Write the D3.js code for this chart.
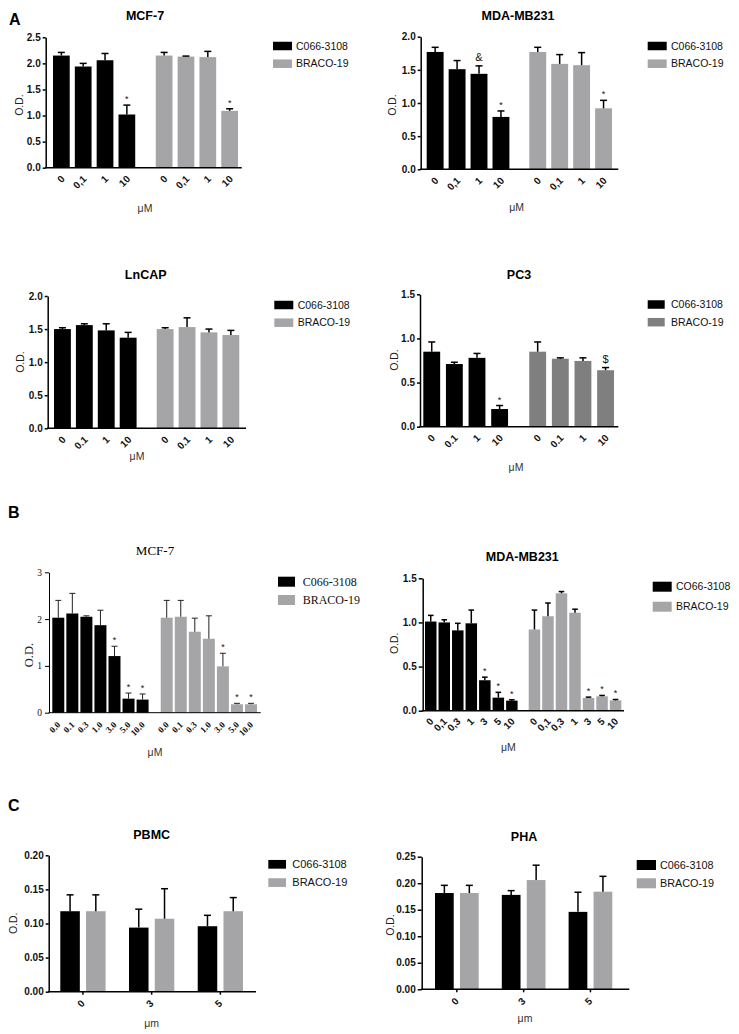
<!DOCTYPE html>
<html><head><meta charset="utf-8">
<script src="https://cdn.jsdelivr.net/npm/d3@7"></script>
<style>body{margin:0;background:#fff}svg{display:block}</style>
</head><body>
<svg id="c" width="739" height="1034"></svg>
<script>
// ---------- DATA ----------
const seriesNames = ["C066-3108", "BRACO-19"];
const seriesNamesBMDA = ["CO66-3108", "BRACO-19"];
const dosesA_comma = ["0", "0,1", "1", "10"];
const dosesA_dot = ["0", "0.1", "1", "10"];
const dosesB_MCF7 = ["0.0", "0.1", "0.3", "1.0", "3.0", "5.0", "10.0"];
const dosesB_MDA = ["0", "0,1", "0,3", "1", "3", "5", "10"];
const dosesC = ["0", "3", "5"];

// Panel A MCF-7
const aMCF7_C066 = [2.15, 1.94, 2.06, 1.02];
const aMCF7_C066_sd = [0.06, 0.06, 0.13, 0.18];
const aMCF7_C066_sig = ["", "", "", "*"];
const aMCF7_BRACO = [2.15, 2.13, 2.12, 1.09];
const aMCF7_BRACO_sd = [0.06, 0.01, 0.11, 0.04];
const aMCF7_BRACO_sig = ["", "", "", "*"];
const aMCF7_ticks = [0, 0.5, 1.0, 1.5, 2.0, 2.5];

// Panel A MDA-MB231
const aMDA_C066 = [1.77, 1.51, 1.44, 0.79];
const aMDA_C066_sd = [0.07, 0.13, 0.12, 0.09];
const aMDA_C066_sig = ["", "", "&", "*"];
const aMDA_BRACO = [1.77, 1.59, 1.57, 0.92];
const aMDA_BRACO_sd = [0.07, 0.14, 0.19, 0.12];
const aMDA_BRACO_sig = ["", "", "", "*"];
const aMDA_ticks = [0, 0.5, 1.0, 1.5, 2.0];

// Panel A LnCAP
const aLNCAP_C066 = [1.50, 1.56, 1.48, 1.37];
const aLNCAP_C066_sd = [0.02, 0.02, 0.10, 0.08];
const aLNCAP_BRACO = [1.50, 1.53, 1.45, 1.41];
const aLNCAP_BRACO_sd = [0.02, 0.14, 0.05, 0.07];
const aLNCAP_ticks = [0, 0.5, 1.0, 1.5, 2.0];

// Panel A PC3
const aPC3_C066 = [0.85, 0.71, 0.78, 0.20];
const aPC3_C066_sd = [0.11, 0.02, 0.05, 0.04];
const aPC3_C066_sig = ["", "", "", "*"];
const aPC3_BRACO = [0.85, 0.77, 0.745, 0.64];
const aPC3_BRACO_sd = [0.11, 0.01, 0.035, 0.03];
const aPC3_BRACO_sig = ["", "", "", "$"];
const aPC3_ticks = [0, 0.5, 1.0, 1.5];

// Panel B MCF-7
const bMCF7_C066 = [2.03, 2.12, 2.05, 1.87, 1.21, 0.30, 0.28];
const bMCF7_C066_sd = [0.37, 0.43, 0.02, 0.32, 0.21, 0.12, 0.12];
const bMCF7_C066_sig = ["", "", "", "", "*", "*", "*"];
const bMCF7_BRACO = [2.03, 2.05, 1.73, 1.58, 0.99, 0.18, 0.18];
const bMCF7_BRACO_sd = [0.37, 0.35, 0.29, 0.49, 0.28, 0.02, 0.02];
const bMCF7_BRACO_sig = ["", "", "", "", "*", "*", "*"];
const bMCF7_ticks = [0, 1, 2, 3];

// Panel B MDA-MB231
const bMDA_C066 = [1.01, 1.00, 0.91, 0.99, 0.345, 0.148, 0.114];
const bMDA_C066_sd = [0.07, 0.03, 0.08, 0.15, 0.035, 0.06, 0.01];
const bMDA_C066_sig = ["", "", "", "", "*", "*", "*"];
const bMDA_BRACO = [0.92, 1.07, 1.33, 1.11, 0.144, 0.163, 0.117];
const bMDA_BRACO_sd = [0.22, 0.15, 0.02, 0.04, 0.01, 0.01, 0.01];
const bMDA_BRACO_sig = ["", "", "", "", "*", "*", "*"];
const bMDA_ticks = [0, 0.5, 1.0, 1.5];

// Panel C PBMC
const cPBMC_C066 = [0.118, 0.094, 0.096];
const cPBMC_C066_sd = [0.024, 0.027, 0.016];
const cPBMC_BRACO = [0.118, 0.107, 0.118];
const cPBMC_BRACO_sd = [0.024, 0.044, 0.020];
const cPBMC_ticks = [0, 0.05, 0.10, 0.15, 0.20];

// Panel C PHA
const cPHA_C066 = [0.1815, 0.178, 0.146];
const cPHA_C066_sd = [0.0145, 0.008, 0.037];
const cPHA_BRACO = [0.1815, 0.206, 0.184];
const cPHA_BRACO_sd = [0.0145, 0.028, 0.029];
const cPHA_ticks = [0, 0.05, 0.10, 0.15, 0.20, 0.25];

// ---------- DRAW ----------
const svg = d3.select("#c");
const SANS = "'Liberation Sans', Arial, sans-serif";
const SERIF = "'Liberation Serif', 'Times New Roman', serif";
const BLACK = "#000000", GRAY = "#a5a5a8", DGRAY = "#7f7f7f";

function mkSeries(names, colors, vals, sds, sigs) {
  return names.map((n, k) => ({name: n, color: colors[k], vals: vals[k], sd: sds[k], sig: sigs ? sigs[k] : null}));
}

function drawPanel(o) {
  const g = svg.append("g");
  const font = o.font || SANS;
  const y = d3.scaleLinear().domain([0, o.yMax]).range([o.y0, o.yTop]);
  const sNames = o.series.map(s => s.name);
  const outerKeys = o.mode === "drug" ? sNames : o.doses;
  const innerKeys = o.mode === "drug" ? o.doses : sNames;
  const xo = d3.scaleBand().domain(outerKeys).range([o.b0, o.b1]).paddingInner(o.gp).paddingOuter(0);
  const xi = d3.scaleBand().domain(innerKeys).range([0, xo.bandwidth()]).paddingInner(o.ip).paddingOuter(0);
  const rows = [];
  o.series.forEach(s => o.doses.forEach((d, i) => {
    const ok = o.mode === "drug" ? s.name : d;
    const ik = o.mode === "drug" ? d : s.name;
    rows.push({s, d, i, x: xo(ok) + xi(ik), w: xi.bandwidth(), v: s.vals[i], e: s.sd[i], sig: s.sig ? s.sig[i] : ""});
  }));

  // bars
  g.selectAll("rect.bar").data(rows).join("rect").attr("class", "bar")
    .attr("x", r => r.x).attr("y", r => y(r.v)).attr("width", r => r.w)
    .attr("height", r => o.y0 - y(r.v)).attr("fill", r => r.s.color);

  // error bars
  const ew = o.errW || 1.5, ch = o.capHalf || 3.5, ec = o.errColor || "#000";
  g.selectAll("line.ev").data(rows).join("line").attr("class", "ev")
    .attr("x1", r => r.x + r.w / 2).attr("x2", r => r.x + r.w / 2)
    .attr("y1", r => y(r.v)).attr("y2", r => y(r.v + r.e))
    .attr("stroke", ec).attr("stroke-width", ew);
  g.selectAll("line.ec").data(rows).join("line").attr("class", "ec")
    .attr("x1", r => r.x + r.w / 2 - ch).attr("x2", r => r.x + r.w / 2 + ch)
    .attr("y1", r => y(r.v + r.e)).attr("y2", r => y(r.v + r.e))
    .attr("stroke", ec).attr("stroke-width", ew);

  // significance marks
  g.selectAll("text.sig").data(rows.filter(r => r.sig)).join("text").attr("class", "sig")
    .attr("x", r => r.x + r.w / 2)
    .attr("y", r => y(r.v + r.e) - (r.sig === "*" ? 3 : 5))
    .attr("text-anchor", "middle").attr("font-family", SANS)
    .attr("font-size", r => r.sig === "*" ? 9 : 11)
    .attr("fill", "#111").text(r => r.sig);

  // y axis
  const ax = d3.axisLeft(y).tickValues(o.ticks).tickFormat(d3.format(o.fmt))
    .tickSize(o.tickSize || 3).tickSizeOuter(0).tickPadding(o.tickPad || 2);
  const ya = g.append("g").attr("transform", `translate(${o.xa},0)`).call(ax);
  ya.select(".domain").attr("stroke", "#000").attr("stroke-width", o.axisW || 1.5);
  ya.selectAll(".tick line").attr("stroke", "#000").attr("stroke-width", o.axisW || 1.5);
  ya.selectAll(".tick text").attr("font-family", font).attr("font-size", o.tickFS || 10)
    .attr("font-weight", o.tickBold === false ? "normal" : "bold").attr("fill", "#111");

  // x axis line
  g.append("line").attr("x1", o.xa - (o.axisW || 1.5) / 2).attr("x2", o.xe)
    .attr("y1", o.y0).attr("y2", o.y0).attr("stroke", "#000").attr("stroke-width", o.axisW || 1.5);

  // x labels
  let labs;
  if (o.mode === "drug") {
    labs = rows.map(r => ({t: r.d, cx: r.x + r.w / 2}));
  } else {
    labs = o.doses.map(d => ({t: d, cx: xo(d) + xo.bandwidth() / 2}));
    g.selectAll("line.xt").data(labs).join("line").attr("class", "xt")
      .attr("x1", l => l.cx).attr("x2", l => l.cx).attr("y1", o.y0).attr("y2", o.y0 + 3)
      .attr("stroke", "#000").attr("stroke-width", o.axisW || 1.5);
  }
  g.selectAll("text.xl").data(labs).join("text").attr("class", "xl")
    .attr("transform", l => `translate(${l.cx + (o.ldx || 1.5)},${o.y0 + (o.ldy || 9.5)}) rotate(-45)`)
    .attr("text-anchor", "end").attr("dy", "0.35em")
    .attr("font-family", font).attr("font-size", o.xlFS || 10).attr("font-weight", "bold")
    .attr("fill", "#111").text(l => l.t);

  // titles
  g.append("text").attr("x", o.titleX).attr("y", o.titleY).attr("dy", "0.35em")
    .attr("text-anchor", "middle").attr("font-family", font)
    .attr("font-weight", o.titleBold === false ? "normal" : "bold")
    .attr("font-size", o.titleFS || 12.5).attr("fill", "#000").text(o.title);
  g.append("text").attr("transform", `translate(${o.odX},${o.odY}) rotate(-90)`).attr("dy", "0.35em")
    .attr("text-anchor", "middle").attr("font-family", font).attr("font-size", o.odFS || 10.5)
    .attr("fill", "#222").text("O.D.");
  g.append("text").attr("x", o.muX).attr("y", o.muY).attr("dy", "0.35em")
    .attr("text-anchor", "middle").attr("font-family", SANS).attr("font-size", 10.5)
    .attr("fill", "#333").text(o.muText || "μM");

  // legend
  const lg = g.append("g").attr("transform", `translate(${o.lx},${o.ly})`);
  const li = lg.selectAll("g").data(o.series).join("g")
    .attr("transform", (s, k) => `translate(0,${k * o.lrow})`);
  li.append("rect").attr("x", 0).attr("y", -o.lh / 2).attr("width", o.lw).attr("height", o.lh)
    .attr("fill", s => s.color);
  li.append("text").attr("x", o.ltx).attr("y", 0).attr("dy", "0.35em")
    .attr("font-family", font).attr("font-size", o.lFS || 10.5).attr("fill", "#111").text(s => s.name);
}

// panel letters
[["A", 9, 25], ["B", 8, 518], ["C", 8, 811]].forEach(([t, x, yy]) =>
  svg.append("text").attr("x", x).attr("y", yy).attr("font-family", SANS).attr("font-weight", "bold")
    .attr("font-size", 16).text(t));

drawPanel({title: "MCF-7", titleX: 145, titleY: 16, mode: "drug", doses: dosesA_comma,
  series: mkSeries(seriesNames, [BLACK, GRAY], [aMCF7_C066, aMCF7_BRACO], [aMCF7_C066_sd, aMCF7_BRACO_sd], [aMCF7_C066_sig, aMCF7_BRACO_sig]),
  xa: 45.7, xe: 241.7, y0: 167.7, yTop: 37.3, yMax: 2.5, ticks: aMCF7_ticks, fmt: ".1f",
  b0: 53, b1: 238, gp: 0.2, ip: 0.234, odX: 19, odY: 105, muX: 145, muY: 208,
  lx: 273, ly: 46, lrow: 17.7, lw: 19, lh: 8.5, ltx: 23});

drawPanel({title: "MDA-MB231", titleX: 518, titleY: 16, mode: "drug", doses: dosesA_comma,
  series: mkSeries(seriesNames, [BLACK, GRAY], [aMDA_C066, aMDA_BRACO], [aMDA_C066_sd, aMDA_BRACO_sd], [aMDA_C066_sig, aMDA_BRACO_sig]),
  xa: 420.7, xe: 618.3, y0: 169.3, yTop: 36.7, yMax: 2.0, ticks: aMDA_ticks, fmt: ".1f",
  b0: 426.7, b1: 612, gp: 0.194, ip: 0.23, odX: 392.7, odY: 105, muX: 516.7, muY: 207,
  lx: 647.7, ly: 46, lrow: 17.7, lw: 19, lh: 8.5, ltx: 23.3});

drawPanel({title: "LnCAP", titleX: 145.7, titleY: 275, mode: "drug", doses: dosesA_dot,
  series: mkSeries(seriesNames, [BLACK, GRAY], [aLNCAP_C066, aLNCAP_BRACO], [aLNCAP_C066_sd, aLNCAP_BRACO_sd], null),
  xa: 47.7, xe: 246, y0: 428.3, yTop: 296, yMax: 2.0, ticks: aLNCAP_ticks, fmt: ".1f",
  b0: 54, b1: 239.3, gp: 0.196, ip: 0.23, odX: 20, odY: 362, muX: 137, muY: 456.5,
  lx: 274.3, ly: 305, lrow: 17.7, lw: 19, lh: 8.5, ltx: 23.4});

drawPanel({title: "PC3", titleX: 519, titleY: 275, mode: "drug", doses: dosesA_dot,
  series: mkSeries(seriesNames, [BLACK, DGRAY], [aPC3_C066, aPC3_BRACO], [aPC3_C066_sd, aPC3_BRACO_sd], [aPC3_C066_sig, aPC3_BRACO_sig]),
  xa: 420, xe: 618.3, y0: 426.7, yTop: 294.3, yMax: 1.5, ticks: aPC3_ticks, fmt: ".1f",
  b0: 423.3, b1: 614, gp: 0.2, ip: 0.255, odX: 394, odY: 360, muX: 516, muY: 467,
  lx: 647.7, ly: 304.5, lrow: 17.7, lw: 17, lh: 8.5, ltx: 23.3});

drawPanel({title: "MCF-7", titleX: 155, titleY: 550, titleBold: false, titleFS: 13, font: SERIF, mode: "drug", doses: dosesB_MCF7,
  series: mkSeries(seriesNames, [BLACK, GRAY], [bMCF7_C066, bMCF7_BRACO], [bMCF7_C066_sd, bMCF7_BRACO_sd], [bMCF7_C066_sig, bMCF7_BRACO_sig]),
  xa: 49, xe: 260.7, y0: 712.7, yTop: 572.3, yMax: 3, ticks: bMCF7_ticks, fmt: "d", tickBold: false, tickFS: 9.5, tickSize: 4, tickPad: 3,
  axisW: 1, errW: 1, capHalf: 3, errColor: "#222",
  b0: 52.3, b1: 257, gp: 0.112, ip: 0.147, odX: 28.3, odY: 655, odFS: 12.5, xlFS: 9, ldx: 0.5, ldy: 10.5,
  muX: 155, muY: 752.7, lx: 278, ly: 581.7, lrow: 18.3, lw: 17, lh: 10, ltx: 24.7, lFS: 12});

drawPanel({title: "MDA-MB231", titleX: 522.3, titleY: 556.7, mode: "drug", doses: dosesB_MDA,
  series: mkSeries(seriesNamesBMDA, [BLACK, GRAY], [bMDA_C066, bMDA_BRACO], [bMDA_C066_sd, bMDA_BRACO_sd], [bMDA_C066_sig, bMDA_BRACO_sig]),
  xa: 422.7, xe: 624, y0: 710.7, yTop: 578.3, yMax: 1.5, ticks: bMDA_ticks, fmt: ".1f", tickSize: 4,
  b0: 425, b1: 621.3, gp: 0.107, ip: 0.15, capHalf: 2.8, odX: 394, odY: 643.3, ldx: 1, ldy: 9,
  muX: 508.3, muY: 747.7, lx: 652.7, ly: 586.7, lrow: 20, lw: 19, lh: 10, ltx: 23.3});

drawPanel({title: "PBMC", titleX: 151.7, titleY: 835, mode: "dose", doses: dosesC,
  series: mkSeries(seriesNames, [BLACK, GRAY], [cPBMC_C066, cPBMC_BRACO], [cPBMC_C066_sd, cPBMC_BRACO_sd], null),
  xa: 48.7, xe: 256, y0: 991.7, yTop: 855.3, yMax: 0.20, ticks: cPBMC_ticks, fmt: ".2f",
  b0: 60.3, b1: 243, gp: 0.341, ip: 0.242, odX: 13.3, odY: 923.3, ldx: 0.1, ldy: 10,
  muX: 151.7, muY: 1023, muText: "μm", lx: 268.3, ly: 864.3, lrow: 18.3, lw: 17.7, lh: 8.7, ltx: 24, lFS: 11});

drawPanel({title: "PHA", titleX: 524, titleY: 836.7, mode: "dose", doses: dosesC,
  series: mkSeries(seriesNames, [BLACK, GRAY], [cPHA_C066, cPHA_BRACO], [cPHA_C066_sd, cPHA_BRACO_sd], null),
  xa: 421.7, xe: 629.3, y0: 989.3, yTop: 856.7, yMax: 0.25, ticks: cPHA_ticks, fmt: ".2f", tickSize: 4,
  b0: 435, b1: 612.3, gp: 0.346, ip: 0.25, odX: 390.7, odY: 925, ldx: 0.1, ldy: 10,
  muX: 525, muY: 1018, muText: "μm", lx: 636.7, ly: 865, lrow: 18.3, lw: 19.3, lh: 10, ltx: 23.3, lFS: 10.8});
</script>
</body></html>
